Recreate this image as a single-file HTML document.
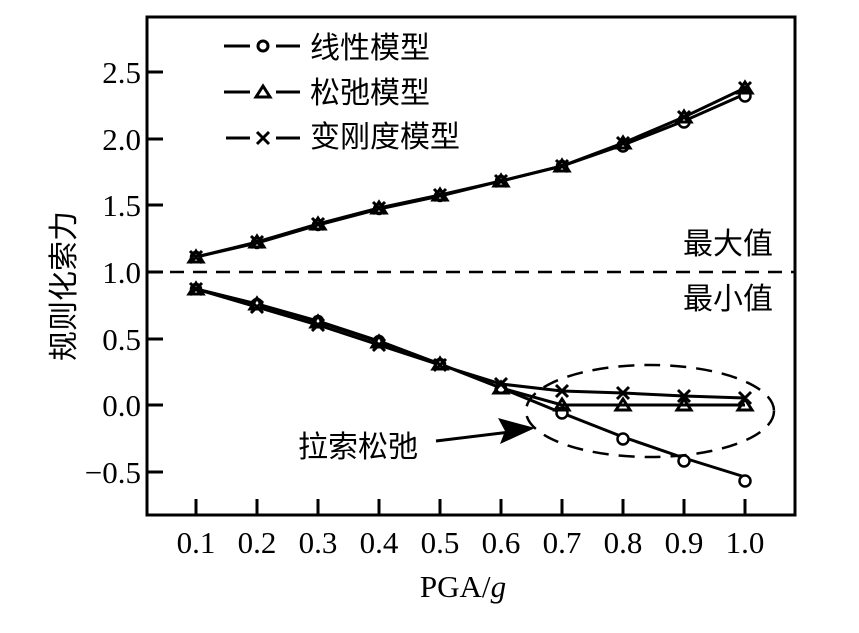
<!DOCTYPE html>
<html><head><meta charset="utf-8"><style>body{margin:0;background:#fff}</style></head><body>
<svg width="859" height="628" xmlns="http://www.w3.org/2000/svg" font-family="'Liberation Serif','Noto Serif CJK SC',serif">
<rect x="147" y="17" width="648" height="498" fill="none" stroke="#000" stroke-width="3"/>
<g stroke="#000" stroke-width="3">
<line x1="147" y1="72" x2="163" y2="72"/><line x1="147" y1="139" x2="163" y2="139"/><line x1="147" y1="205" x2="163" y2="205"/><line x1="147" y1="272" x2="163" y2="272"/><line x1="147" y1="339" x2="163" y2="339"/><line x1="147" y1="405" x2="163" y2="405"/><line x1="147" y1="472" x2="163" y2="472"/>
<line x1="196" y1="499" x2="196" y2="515"/><line x1="257" y1="499" x2="257" y2="515"/><line x1="318" y1="499" x2="318" y2="515"/><line x1="379" y1="499" x2="379" y2="515"/><line x1="440" y1="499" x2="440" y2="515"/><line x1="501" y1="499" x2="501" y2="515"/><line x1="562" y1="499" x2="562" y2="515"/><line x1="623" y1="499" x2="623" y2="515"/><line x1="684" y1="499" x2="684" y2="515"/><line x1="745" y1="499" x2="745" y2="515"/>
</g>
<g font-size="31" text-anchor="end">
<text x="141" y="83">2.5</text><text x="141" y="150">2.0</text><text x="141" y="216">1.5</text><text x="141" y="283">1.0</text><text x="141" y="350">0.5</text><text x="141" y="416">0.0</text><text x="141" y="483">−0.5</text>
</g>
<g font-size="31" text-anchor="middle">
<text x="196" y="553">0.1</text><text x="257" y="553">0.2</text><text x="318" y="553">0.3</text><text x="379" y="553">0.4</text><text x="440" y="553">0.5</text><text x="501" y="553">0.6</text><text x="562" y="553">0.7</text><text x="623" y="553">0.8</text><text x="684" y="553">0.9</text><text x="745" y="553">1.0</text>
<text x="463" y="597">PGA/<tspan font-style="italic">g</tspan></text>
</g>
<text transform="translate(74,286) rotate(-90)" font-size="30" text-anchor="middle" font-family="'Liberation Sans','Noto Sans CJK SC',sans-serif">规则化索力</text>
<line x1="147" y1="272" x2="795" y2="272" stroke="#000" stroke-width="2.5" stroke-dasharray="14,9"/>
<g font-size="30" font-family="'Liberation Sans','Noto Sans CJK SC',sans-serif">
<text x="683" y="254">最大值</text><text x="683" y="309">最小值</text>
<text x="310" y="58">线性模型</text><text x="310" y="103">松弛模型</text><text x="310" y="147">变刚度模型</text>
<text x="298" y="457">拉索松弛</text>
</g>
<g stroke="#000" stroke-width="3" fill="none">
<line x1="224" y1="46" x2="250" y2="46"/><line x1="276" y1="46" x2="300" y2="46"/><circle cx="263" cy="46" r="5"/>
<line x1="224" y1="92" x2="250" y2="92"/><line x1="276" y1="92" x2="300" y2="92"/><path d="M256 97 L263 86 L270 97 Z"/>
<line x1="226" y1="138" x2="250" y2="138"/><line x1="276" y1="138" x2="300" y2="138"/><path d="M257 132 L269 144 M269 132 L257 144"/>
</g>
<g stroke="#000" stroke-width="3" fill="none">
<polyline points="196,257 257,243 318,225 379,209 440,196 501,181 562,166 623,145 684,121 745,94"/>
<polyline points="196,257 257,242 318,224 379,208 440,195 501,181 562,166 623,143 684,117 745,88"/>
<polyline points="196,289 257,304 318,321 379,341 440,364 501,388 562,413 623,437 684,458 745,477"/>
<polyline points="196,289 257,304 318,322 379,342 440,364 501,388 562,405 623,405 684,405 745,405"/>
<polyline points="196,289 257,307 318,325 379,345 440,365 501,384 562,391 623,393 684,396 745,398"/>
</g>
<g stroke="#000" stroke-width="2.5" fill="#fff">
<circle cx="196" cy="289" r="5"/><circle cx="257" cy="304" r="5"/><circle cx="318" cy="321" r="5"/><circle cx="379" cy="341" r="5"/><circle cx="440" cy="364" r="5"/><circle cx="501" cy="388" r="5"/><circle cx="562" cy="413" r="5.5"/><circle cx="623" cy="439" r="5.5"/><circle cx="684" cy="461" r="5.5"/><circle cx="745" cy="481" r="5.5"/>
<circle cx="196" cy="257" r="5"/><circle cx="257" cy="243" r="5"/><circle cx="318" cy="225" r="5"/><circle cx="379" cy="209" r="5"/><circle cx="440" cy="196" r="5"/><circle cx="501" cy="181" r="5"/><circle cx="562" cy="166" r="5"/><circle cx="623" cy="146" r="5.5"/><circle cx="684" cy="122" r="5.5"/><circle cx="745" cy="96" r="5.5"/>
</g>
<g stroke="#000" stroke-width="3" fill="none">
<path d="M189 262 L196 251 L203 262 Z M250 247 L257 236 L264 247 Z M311 229 L318 218 L325 229 Z M372 213 L379 202 L386 213 Z M433 200 L440 189 L447 200 Z M494 186 L501 175 L508 186 Z M555 171 L562 160 L569 171 Z M616 148 L623 137 L630 148 Z M677 122 L684 111 L691 122 Z M738 93 L745 82 L752 93 Z"/>
<path d="M189 294 L196 283 L203 294 Z M250 309 L257 298 L264 309 Z M311 327 L318 316 L325 327 Z M372 347 L379 336 L386 347 Z M433 369 L440 358 L447 369 Z M494 393 L501 382 L508 393 Z M555 410 L562 399 L569 410 Z M616 410 L623 399 L630 410 Z M677 410 L684 399 L691 410 Z M738 410 L745 399 L752 410 Z"/>
<path d="M190 283 l12 12 m0 -12 l-12 12 M251 301 l12 12 m0 -12 l-12 12 M312 319 l12 12 m0 -12 l-12 12 M373 339 l12 12 m0 -12 l-12 12 M434 359 l12 12 m0 -12 l-12 12 M495 378 l12 12 m0 -12 l-12 12 M556 385 l12 12 m0 -12 l-12 12 M617 387 l12 12 m0 -12 l-12 12 M678 390 l12 12 m0 -12 l-12 12 M739 392 l12 12 m0 -12 l-12 12"/>
<path d="M190 251 l12 12 m0 -12 l-12 12 M251 236 l12 12 m0 -12 l-12 12 M312 218 l12 12 m0 -12 l-12 12 M373 202 l12 12 m0 -12 l-12 12 M434 189 l12 12 m0 -12 l-12 12 M495 175 l12 12 m0 -12 l-12 12 M556 160 l12 12 m0 -12 l-12 12 M617 137 l12 12 m0 -12 l-12 12 M678 111 l12 12 m0 -12 l-12 12 M739 82 l12 12 m0 -12 l-12 12"/>
</g>
<ellipse cx="650" cy="411" rx="124" ry="46" fill="none" stroke="#000" stroke-width="2.5" stroke-dasharray="16,10"/>
<line x1="436" y1="441" x2="510" y2="432" stroke="#000" stroke-width="3"/>
<path d="M535 428 L498 418 L505 431 L500 444 Z" fill="#000"/>
</svg>
</body></html>
